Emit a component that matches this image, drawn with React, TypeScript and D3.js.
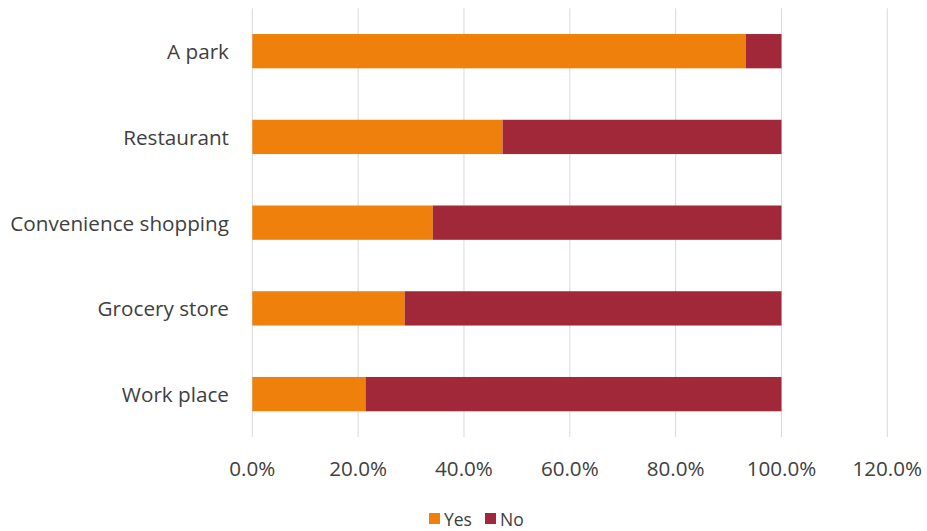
import React from "react";
import * as d3 from "d3";

const categories = ["A park", "Restaurant", "Convenience shopping", "Grocery store", "Work place"];
const yesValues = [93.3, 47.3, 34.1, 28.8, 21.4];
const noValues = [6.7, 52.7, 65.9, 71.2, 78.6];
const xTicks = [0, 20, 40, 60, 80, 100, 120];
const seriesNames = ["Yes", "No"];
const seriesColors = ["#EF800B", "#A12839"];

const W = 927;
const H = 531;
const margin = { left: 252.3, right: W - 887.3, top: 8.3, bottom: H - 437 };
const FONT = "'Open Sans', 'DejaVu Sans', sans-serif";

export default function App() {
  const x = d3.scaleLinear().domain([0, 120]).range([margin.left, W - margin.right]);
  const y = d3
    .scaleBand<string>()
    .domain(categories)
    .range([margin.top, H - margin.bottom])
    .paddingInner(0.6)
    .paddingOuter(0.3);

  const stackData = categories.map((c, i) => ({ cat: c, Yes: yesValues[i], No: noValues[i] }));
  const stack = d3.stack<any>().keys(seriesNames)(stackData);

  return (
    <svg width={W} height={H} style={{ display: "block", position: "absolute", left: 0, top: 0 }}>
      <rect width={W} height={H} fill="#fff" />
      {xTicks.map((t) => (
        <line key={t} x1={x(t)} x2={x(t)} y1={margin.top} y2={H - margin.bottom} stroke="#D9D9D9" strokeWidth={1} />
      ))}
      {stack.map((s, si) =>
        s.map((d, i) => (
          <rect
            key={si + "-" + i}
            x={x(d[0])}
            y={y(categories[i])!}
            width={x(d[1]) - x(d[0])}
            height={y.bandwidth()}
            fill={seriesColors[si]}
          />
        ))
      )}
      {categories.map((c) => (
        <text
          key={c}
          x={229}
          y={y(c)! + y.bandwidth() / 2}
          textAnchor="end"
          dominantBaseline="central"
          fontFamily={FONT}
          fontSize={20.7}
          fill="#404040"
        >
          {c}
        </text>
      ))}
      {xTicks.map((t) => (
        <text
          key={"l" + t}
          x={x(t)}
          y={468}
          textAnchor="middle"
          dominantBaseline="central"
          fontFamily={FONT}
          fontSize={20.6}
          fill="#404040"
        >
          {d3.format(".1f")(t) + "%"}
        </text>
      ))}
      <g>
        <rect x={429} y={513} width={11} height={11} fill={seriesColors[0]} />
        <text x={444} y={519} dominantBaseline="central" fontFamily={FONT} fontSize={17.5} fill="#404040">
          {seriesNames[0]}
        </text>
        <rect x={485} y={513} width={11} height={11} fill={seriesColors[1]} />
        <text x={500} y={519} dominantBaseline="central" fontFamily={FONT} fontSize={17.5} fill="#404040">
          {seriesNames[1]}
        </text>
      </g>
    </svg>
  );
}
